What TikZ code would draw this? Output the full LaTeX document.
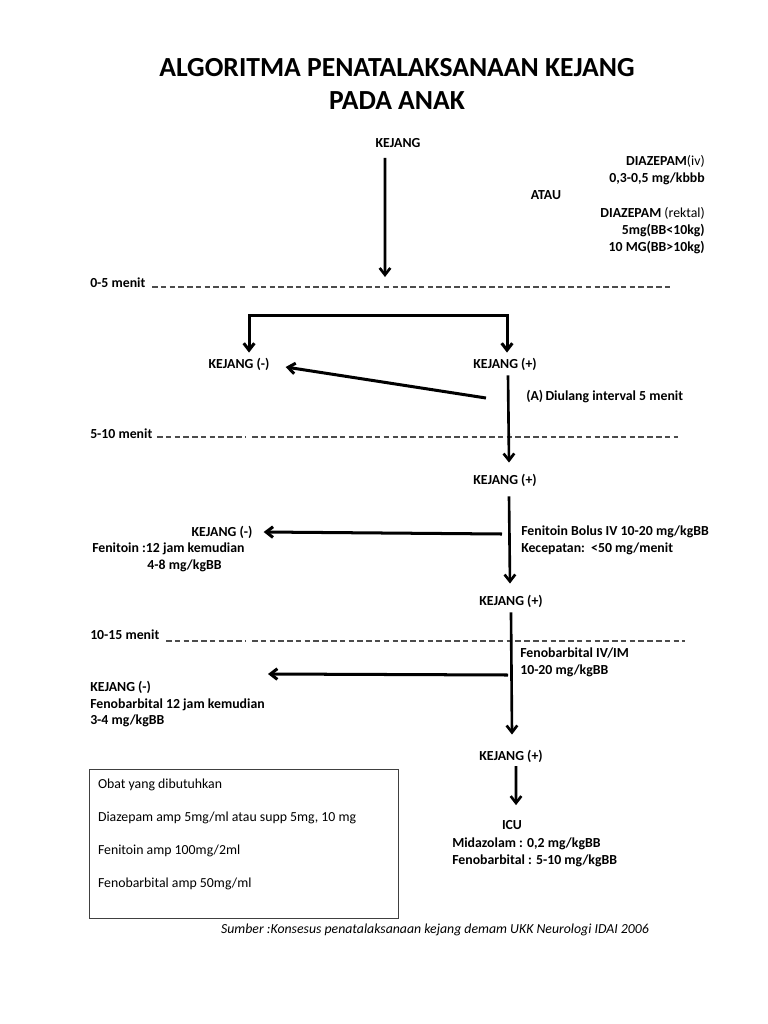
\documentclass[tikz,border=0pt]{standalone}
\usepackage{fontspec}
\setmainfont{Carlito}
\usetikzlibrary{arrows.meta}

\begin{document}
\begin{tikzpicture}[x=0.797pt,y=-0.797pt,
  lbl/.style={font=\bfseries\fontsize{11}{13.6}\selectfont, inner sep=0pt},
  kt/.tip={Straight Barb[length=5.5pt,width=8.5pt]},
  flow/.style={line width=2.1pt, -kt},
  tline/.style={line width=1pt, black!70, dash pattern=on 4.4pt off 2.6pt}]
\useasboundingbox (0,0) rectangle (768,1024);
\node[font=\bfseries\fontsize{22}{26.4}\selectfont, align=center, inner sep=0pt] (title) at (397,84) {ALGORITMA PENATALAKSANAAN KEJANG\\PADA ANAK};
\foreach \lab/\ly/\dy/\xs/\xe [count=\i] in {0-5 menit/283/287/152/670, 5-10 menit/434/437/157/678, 10-15 menit/635/641/166/685}{
  \node[lbl, anchor=west] (t\i) at (90,\ly) {\lab};
  \draw[tline] (\xs,\dy) -- (246,\dy) (252,\dy) -- (\xe,\dy);
}
\node[lbl] (kej0) at (398,143) {KEJANG};
\node[lbl, align=right, anchor=base east] (diaz1) at (705,182.5) {DIAZEPAM{\mdseries(iv)}\\0,3-0,5 mg/kbbb};
\node[lbl] (atau) at (546,195) {ATAU};
\node[lbl, align=right, anchor=base east] (diaz2) at (705,251.5) {DIAZEPAM {\mdseries(rektal)}\\5mg(BB<10kg)\\10 MG(BB>10kg)};
\node[lbl] (kneg1) at (239,364) {KEJANG (-)};
\node[lbl] (kpos1) at (505,364) {KEJANG (+)};
\node[lbl, anchor=west] (diulang) at (526,397) {(A)\,Diulang interval 5 menit};
\node[lbl] (kpos2) at (505,480) {KEJANG (+)};
\node[lbl] (kneg2) at (222,532) {KEJANG (-)};
\node[lbl, align=left, anchor=base west] (fenitoin) at (92,569.5) {Fenitoin :12 jam kemudian\\\hspace*{44pt}4-8 mg/kgBB};
\node[lbl, align=left, anchor=base west] (bolus) at (521,552.5) {Fenitoin Bolus IV 10-20 mg/kgBB\\Kecepatan:~~<50 mg/menit};
\node[lbl] (kpos3) at (511,601) {KEJANG (+)};
\node[lbl, align=left, anchor=base west] (fenob) at (520,674.5) {Fenobarbital IV/IM\\10-20 mg/kgBB};
\node[lbl, align=left, anchor=base west, font=\bfseries\fontsize{11}{13}\selectfont] (kneg3) at (90,724.5) {KEJANG (-)\\Fenobarbital 12 jam kemudian\\3-4 mg/kgBB};
\node[lbl] (kpos4) at (511,756) {KEJANG (+)};
\node[lbl] (icu) at (512,825) {ICU};
\node[lbl, align=left, anchor=base west] (mida) at (452,864.5) {Midazolam : 0,2 mg/kgBB\\Fenobarbital : 5-10 mg/kgBB};
\node[draw=black!75, line width=0.8pt, inner sep=0pt, minimum width=246.3pt, minimum height=118.7pt, anchor=north west] (obat) at (89,769) {};
\node[anchor=north west, align=left, inner sep=0pt, font=\fontsize{11}{26.3}\selectfont] (obattxt) at ([xshift=7pt,yshift=-7.5pt]obat.north west) {Obat yang dibutuhkan\\Diazepam amp 5mg/ml atau supp 5mg, 10 mg\\Fenitoin amp 100mg/2ml\\Fenobarbital amp 50mg/ml};
\node[font=\itshape\fontsize{11}{13}\selectfont, inner sep=0pt] (src) at (435,930) {Sumber :Konsesus penatalaksanaan kejang demam UKK Neurologi IDAI 2006};
\coordinate (e0) at (385,277);
\coordinate (s1) at (486,398);
\coordinate (h1) at (502,534);
\coordinate (h2) at (508,675);
\coordinate (h2e) at (268,674);
\draw[flow] ([xshift=-10.4pt,yshift=-8pt]kej0.south) -- (e0);
\draw[flow, line width=2.4pt, kt-kt] ([xshift=8pt,yshift=4pt]kneg1.north) -- ++(0,-37) -| ([xshift=1.6pt,yshift=4pt]kpos1.north);
\draw[flow, line width=2.4pt] (s1) -- ([xshift=12.8pt,yshift=-2.4pt]kneg1.east);
\draw[flow] ([xshift=2.4pt,yshift=-4pt]kpos1.south) -- ([xshift=3.2pt,yshift=8.8pt]kpos2.north);
\draw[flow] ([xshift=3.2pt,yshift=-8pt]kpos2.south) -- ([xshift=-0.8pt,yshift=8.8pt]kpos3.north);
\draw[flow, line width=2.4pt] (h1) -- ([xshift=8.8pt]kneg2.east);
\draw[flow] ([yshift=-4pt]kpos3.south) -- ([xshift=0.8pt,yshift=12pt]kpos4.north);
\draw[flow, line width=2.4pt] (h2) -- (h2e);
\draw[flow] ([xshift=4pt,yshift=-3pt]kpos4.south) -- ([xshift=3.2pt,yshift=12pt]icu.north);
\end{tikzpicture}
\end{document}
